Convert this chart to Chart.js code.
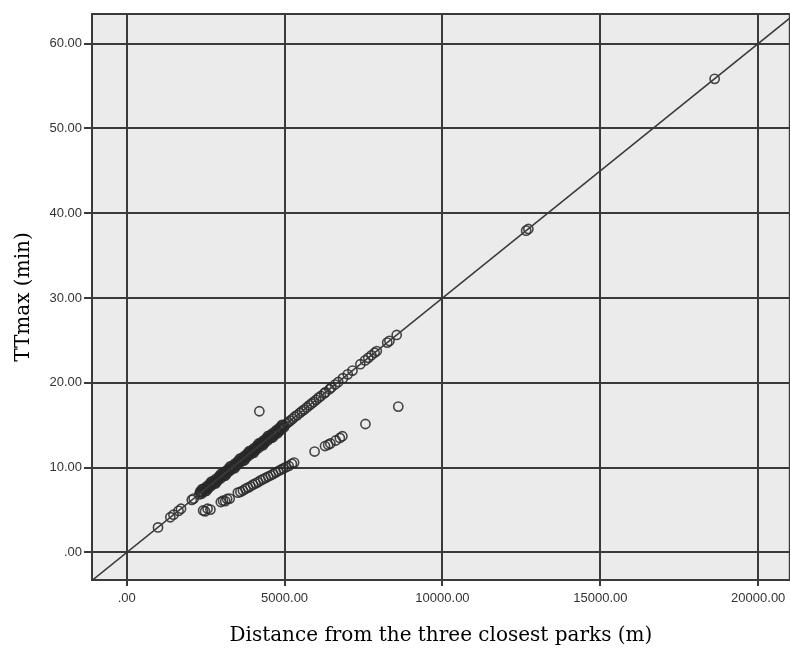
<!DOCTYPE html>
<html lang="en">
<head>
<meta charset="UTF-8">
<title>TTmax vs distance from the three closest parks</title>
<script src="https://cdn.jsdelivr.net/npm/chart.js"></script>
<style>
  html, body { margin: 0; padding: 0; background: #fff; overflow: hidden; }
  #wrap { width: 796px; height: 657px; }
</style>
</head>
<body>
<div id="wrap"><canvas id="scatter"></canvas></div>
<script>
// distance (m) / TTmax (min) for points sitting on the 1:1 travel line
const upperX = [990, 1380, 1480, 1640, 1720, 2060, 2120, 2300, 2350, 2380, 2400, 2450, 2500, 2520, 2550, 2600,
  2650, 2680, 2700, 2750, 2800, 2820, 2850, 2900, 2950, 2980, 3000, 3050, 3100, 3120, 3150, 3200, 3250, 3280,
  3300, 3350, 3400, 3420, 3450, 3500, 3550, 3580, 3600, 3650, 3700, 3720, 3750, 3800, 3850, 3880, 3900, 3950,
  4000, 4020, 4050, 4100, 4150, 4180, 4200, 4250, 4300, 4320, 4350, 4400, 4450, 4480, 4500, 4550, 4600, 4620,
  4650, 4700, 4750, 4780, 4800, 4850, 4900, 4920, 4950, 5000, 5060, 5120, 5180, 5250, 5320, 5400, 5480, 5550,
  5620, 5700, 5780, 5850, 5920, 6000, 6080, 6150, 6250, 6300, 6420, 6480, 6600, 6700, 6850, 7000, 7150, 7400,
  7550, 7650, 7750, 7850, 7920, 8250, 8320, 8550, 12650, 12720, 18620];
const upperY = [2.95, 4.15, 4.45, 4.90, 5.15, 6.20, 6.35, 6.85, 7.10, 7.45, 7.15, 7.40, 7.45, 7.25, 7.70, 7.75,
  8.00, 8.35, 8.05, 8.30, 8.35, 8.15, 8.60, 8.65, 8.90, 9.25, 8.95, 9.20, 9.25, 9.05, 9.50, 9.55, 9.80, 10.15,
  9.85, 10.10, 10.15, 9.95, 10.40, 10.45, 10.70, 11.05, 10.75, 11.00, 11.05, 10.85, 11.30, 11.35, 11.60, 11.95, 11.65, 11.90,
  11.95, 11.75, 12.20, 12.25, 12.50, 12.85, 12.55, 12.80, 12.85, 12.65, 13.10, 13.15, 13.40, 13.75, 13.45, 13.70, 13.75, 13.55,
  14.00, 14.05, 14.30, 14.05, 14.35, 14.60, 14.65, 15.05, 14.90, 14.95, 15.20, 15.35, 15.55, 15.75, 16.00, 16.20, 16.45, 16.65,
  16.85, 17.10, 17.35, 17.55, 17.75, 18.00, 18.25, 18.45, 18.75, 18.90, 19.25, 19.45, 19.80, 20.10, 20.55, 21.00, 21.45, 22.20,
  22.65, 22.95, 23.25, 23.55, 23.75, 24.75, 24.95, 25.65, 37.95, 38.15, 55.85];

// the crowded stretch of the line between roughly 2.3 and 5 km
const bandX = [2325, 2375, 2425, 2475, 2525, 2575, 2625, 2675, 2725, 2775, 2825, 2875, 2925, 2975, 3025, 3075,
  3125, 3175, 3225, 3275, 3325, 3375, 3425, 3475, 3525, 3575, 3625, 3675, 3725, 3775, 3825, 3875, 3925, 3975,
  4025, 4075, 4125, 4175, 4225, 4275, 4325, 4375, 4425, 4475, 4525, 4575, 4625, 4675, 4725, 4775, 4825, 4875,
  4925, 4975];
const bandY = [7.18, 6.93, 7.48, 7.23, 7.78, 7.53, 8.08, 7.83, 8.38, 8.13, 8.68, 8.43, 8.98, 8.73, 9.28, 9.03,
  9.58, 9.33, 9.88, 9.63, 10.18, 9.93, 10.48, 10.23, 10.78, 10.53, 11.08, 10.83, 11.38, 11.13, 11.68, 11.43, 11.98, 11.73,
  12.28, 12.03, 12.58, 12.33, 12.88, 12.63, 13.18, 12.93, 13.48, 13.23, 13.78, 13.53, 14.08, 13.83, 14.38, 14.13, 14.68, 14.43,
  14.98, 14.73];

// points below the line, plus the single outlier above it
const lowerX = [2420, 2480, 2560, 2650, 2980, 3050, 3120, 3180, 3260, 3520, 3600, 3680, 3760, 3840, 3920, 4000,
  4080, 4160, 4240, 4320, 4400, 4480, 4560, 4640, 4720, 4800, 4880, 4960, 5040, 5130, 5230, 5300, 5950, 6280,
  6380, 6450, 6620, 6750, 6830, 7560, 8600, 4200];
const lowerY = [4.95, 4.85, 5.15, 5.05, 5.95, 6.10, 6.05, 6.30, 6.35, 7.05, 7.15, 7.30, 7.50, 7.65, 7.80, 8.00,
  8.15, 8.30, 8.50, 8.65, 8.80, 8.95, 9.10, 9.25, 9.45, 9.60, 9.75, 9.90, 10.05, 10.20, 10.45, 10.60, 11.90, 12.55,
  12.70, 12.85, 13.20, 13.50, 13.70, 15.15, 17.20, 16.65];

// reference line TTmax = distance * 0.003, across the full x range
const refLineX = [-1100, 21000];
const refLineY = [-3.3, 63.0];

const xTicks = [0, 5000, 10000, 15000, 20000];
const yTicks = [0, 10, 20, 30, 40, 50, 60];

const zip = (xs, ys) => xs.map((x, i) => ({ x: x, y: ys[i] }));
const fmt = v => v === 0 ? '.00' : v.toFixed(2);

const ink = '#3a3a3a';

// grey plot background and the frame around it
const plotFrame = {
  id: 'plotFrame',
  beforeDraw(chart) {
    const { ctx, chartArea: a } = chart;
    ctx.save();
    ctx.fillStyle = '#ebebeb';
    ctx.fillRect(a.left, a.top, a.right - a.left, a.bottom - a.top);
    ctx.restore();
  },
  beforeDatasetsDraw(chart) {
    const { ctx, chartArea: a } = chart;
    ctx.save();
    ctx.strokeStyle = ink;
    ctx.lineWidth = 2;
    ctx.strokeRect(a.left, a.top, a.right - a.left, a.bottom - a.top);
    ctx.restore();
  }
};

const pointStyle = {
  type: 'scatter',
  pointRadius: 4.6,
  pointBorderWidth: 1.6,
  pointBorderColor: 'rgba(40,40,40,0.85)',
  pointBackgroundColor: 'rgba(0,0,0,0)',
  showLine: false
};

new Chart(document.getElementById('scatter'), {
  type: 'scatter',
  data: {
    datasets: [
      {
        type: 'line',
        data: zip(refLineX, refLineY),
        borderColor: ink,
        borderWidth: 1.6,
        pointRadius: 0,
        fill: false
      },
      Object.assign({ data: zip(upperX, upperY) }, pointStyle),
      Object.assign({ data: zip(bandX, bandY) }, pointStyle),
      Object.assign({ data: zip(lowerX, lowerY) }, pointStyle)
    ]
  },
  options: {
    responsive: true,
    maintainAspectRatio: false,
    animation: false,
    layout: { padding: { top: 14, right: 0, bottom: 0, left: 0 } },
    plugins: { legend: { display: false }, tooltip: { enabled: false } },
    scales: {
      x: {
        type: 'linear',
        min: -1100,
        max: 21000,
        afterBuildTicks: s => { s.ticks = xTicks.map(v => ({ value: v })); },
        afterFit: s => { s.height = 77; s.paddingLeft = 0; s.paddingRight = 0; },
        ticks: {
          callback: fmt,
          color: '#333',
          padding: 5,
          maxRotation: 0,
          font: { family: 'Liberation Sans', size: 13 }
        },
        grid: { color: ink, lineWidth: 2, tickLength: 6 },
        border: { display: true, color: ink, width: 2 },
        title: {
          display: true,
          text: 'Distance from the three closest parks (m)',
          color: '#000',
          font: { family: 'DejaVu Serif', size: 20 },
          padding: { top: 0, bottom: 9 }
        }
      },
      y: {
        type: 'linear',
        min: -3.25,
        max: 63.5,
        afterBuildTicks: s => { s.ticks = yTicks.map(v => ({ value: v })); },
        afterFit: s => { s.width = 92; s.paddingTop = 0; s.paddingBottom = 0; },
        ticks: {
          callback: fmt,
          color: '#333',
          padding: 2,
          font: { family: 'Liberation Sans', size: 13 }
        },
        grid: { color: ink, lineWidth: 2, tickLength: 8 },
        border: { display: true, color: ink, width: 2 },
        title: {
          display: true,
          text: 'TTmax (min)',
          color: '#000',
          font: { family: 'DejaVu Serif', size: 20 },
          padding: { top: 12, bottom: 0 }
        }
      }
    }
  },
  plugins: [plotFrame]
});
</script>
</body>
</html>
